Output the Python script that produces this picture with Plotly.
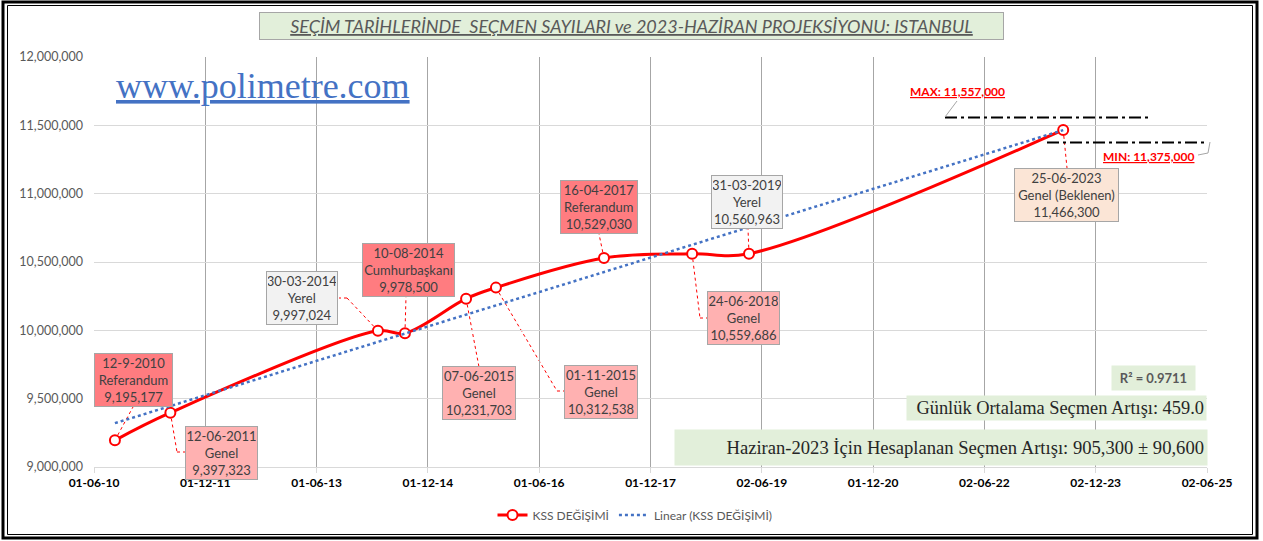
import numpy as np
import pandas as pd
import plotly.graph_objects as go

# ---------------- data ----------------
dates = ["2010-09-12", "2011-06-12", "2014-03-30", "2014-08-10", "2015-06-07",
         "2015-11-01", "2017-04-16", "2018-06-24", "2019-03-31", "2023-06-25"]
voters = [9195177, 9397323, 9997024, 9978500, 10231703,
          10312538, 10529030, 10559686, 10560963, 11466300]
date_labels = ["12-9-2010", "12-06-2011", "30-03-2014", "10-08-2014", "07-06-2015",
               "01-11-2015", "16-04-2017", "24-06-2018", "31-03-2019", "25-06-2023"]
election_types = ["Referandum", "Genel", "Yerel", "Cumhurbaşkanı", "Genel",
                  "Genel", "Referandum", "Genel", "Yerel", "Genel (Beklenen)"]
tick_dates = ["2010-06-01", "2011-12-01", "2013-06-01", "2014-12-01", "2016-06-01",
              "2017-12-01", "2019-06-02", "2020-12-01", "2022-06-02", "2023-12-02", "2025-06-02"]
tick_labels = ["01-06-10", "01-12-11", "01-06-13", "01-12-14", "01-06-16",
               "01-12-17", "02-06-19", "01-12-20", "02-06-22", "02-12-23", "02-06-25"]
proj_max = 11557000
proj_min = 11375000
r_squared = 0.9711
daily_increase = 459.0
title_text = "SEÇİM TARİHLERİNDE  SEÇMEN SAYILARI ve 2023-HAZİRAN PROJEKSİYONU: ISTANBUL"
increase_text = "Haziran-2023 İçin Hesaplanan Seçmen Artışı: 905,300 ± 90,600"

# ---------------- geometry helpers ----------------
W, H = 1263, 541
PL, PR, PT, PB = 94, 1207, 57, 467
X0, X1 = pd.Timestamp(tick_dates[0]), pd.Timestamp(tick_dates[-1])
Y0, Y1 = 9000000, 12000000


def xd(px):
    return X0 + (px - PL) / (PR - PL) * (X1 - X0)


def yv(py):
    return Y1 - (py - PT) / (PB - PT) * (Y1 - Y0)


def xp(px):
    return (px - PL) / (PR - PL)


def yp(py):
    return (PB - py) / (PB - PT)


FONT = "Lato"
SERIF = "Liberation Serif"

fig = go.Figure()

# trendline (least-squares fit of the data, like Excel's linear trendline)
dt = pd.to_datetime(dates)
days = np.array([(d - dt[0]).days for d in dt], dtype=float)
coef = np.polyfit(days, np.array(voters, dtype=float), 1)
trend_x = [dt[0], dt[-1]]
trend_y = list(np.polyval(coef, [days[0], days[-1]]))

fig.add_trace(go.Scatter(
    x=dates, y=voters, mode="lines+markers", name="KSS DEĞİŞİMİ",
    line=dict(color="#FF0000", width=3, shape="spline", smoothing=1),
    marker=dict(symbol="circle", size=10, color="white",
                line=dict(color="#FF0000", width=2)),
))
fig.add_trace(go.Scatter(
    x=trend_x, y=trend_y, mode="lines", name="Linear (KSS DEĞİŞİMİ)",
    line=dict(color="#4472C4", width=2.5, dash="dot"),
))

shapes = []
annotations = []

# ---------------- data labels (boxes) ----------------
type_colors = {"Referandum": "#FF7C80", "Cumhurbaşkanı": "#FF7C80", "Genel": "#FFB1B1",
               "Yerel": "#F2F2F2", "Genel (Beklenen)": "#FBE5D6"}
box_pos = [(133, 380, 79), (221, 453, 73), (302, 298, 72), (408, 270, 93), (479, 393, 74),
           (601, 392, 74), (599, 207, 78), (743, 318, 73), (747, 202, 72), (1066, 195, 105)]
leaders = [[(133, 407)], [(177, 452), (185, 452)], [(347, 298), (339, 298)], [(406, 297)],
           [(479, 367)], [(557, 391), (564, 391)], [(599, 234)], [(700, 318), (707, 318)],
           [(748, 229)], [(1067, 168)]]

for i in range(len(dates)):
    cx, cy, w = box_pos[i]
    annotations.append(dict(
        x=xd(cx), y=yv(cy), xref="x", yref="y", showarrow=False,
        xanchor="center", yanchor="middle",
        text=f"{date_labels[i]}<br>{election_types[i]}<br>{voters[i]:,}",
        font=dict(family=FONT, size=13, color="#404040"),
        bgcolor=type_colors[election_types[i]], bordercolor="#A6A6A6", borderwidth=1,
        borderpad=1, width=w - 4, height=50, align="center",
    ))
    px_prev = (dt[i], voters[i])
    for (lx, ly) in leaders[i]:
        nxt = (xd(lx), yv(ly))
        shapes.append(dict(type="line", xref="x", yref="y", x0=px_prev[0], y0=px_prev[1],
                           x1=nxt[0], y1=nxt[1], layer="below",
                           line=dict(color="#FF0000", width=1, dash="dot")))
        px_prev = nxt

# ---------------- MAX / MIN projection lines ----------------
dashdot = "12px,4px,3px,4px"
shapes.append(dict(type="line", xref="x", yref="y", x0=xd(945), x1=xd(1148), y0=proj_max, y1=proj_max,
                   line=dict(color="black", width=2, dash=dashdot)))
shapes.append(dict(type="line", xref="x", yref="y", x0=xd(1047), x1=xd(1207), y0=proj_min, y1=proj_min,
                   line=dict(color="black", width=2, dash=dashdot)))
shapes.append(dict(type="line", xref="paper", yref="paper", x0=xp(957), y0=yp(101), x1=xp(945), y1=yp(117),
                   line=dict(color="#A6A6A6", width=1)))
shapes.append(dict(type="path", xref="paper", yref="paper",
                   path=f"M {xp(1210)},{yp(142)} L {xp(1208)},{yp(153)} L {xp(1198)},{yp(155)}",
                   line=dict(color="#A6A6A6", width=1)))
annotations.append(dict(x=xp(957), y=yp(92), xref="paper", yref="paper", showarrow=False,
                        text=f"<b><u>MAX: {proj_max:,}</u></b>", xanchor="center", yanchor="middle",
                        font=dict(family=FONT, size=12, color="#FF0000")))
annotations.append(dict(x=xp(1148), y=yp(156), xref="paper", yref="paper", showarrow=False,
                        text=f"<b><u>MIN: {proj_min:,}</u></b>", xanchor="center", yanchor="middle",
                        font=dict(family=FONT, size=12, color="#FF0000")))

# ---------------- text boxes ----------------
annotations.append(dict(x=xp(631), y=yp(26), xref="paper", yref="paper", showarrow=False,
                        text=f"<i><u>{title_text}</u></i>", xanchor="center", yanchor="middle",
                        font=dict(family=FONT, size=18, color="#595959"),
                        bgcolor="#E2EFDA", bordercolor="#A6A6A6", borderwidth=1, borderpad=2,
                        width=739, height=22))
annotations.append(dict(x=xp(263), y=yp(86), xref="paper", yref="paper", showarrow=False,
                        text="<u>www.polimetre.com</u>", xanchor="center", yanchor="middle",
                        font=dict(family=SERIF, size=36, color="#4472C4")))
annotations.append(dict(x=xp(1153), y=yp(378), xref="paper", yref="paper", showarrow=False,
                        text=f"<b>R² = {r_squared:.4f}</b>", xanchor="center", yanchor="middle",
                        font=dict(family=FONT, size=13, color="#595959"),
                        bgcolor="#E2EFDA", borderpad=3, width=77, height=18))
annotations.append(dict(x=xp(1056), y=yp(408), xref="paper", yref="paper", showarrow=False,
                        text=f"Günlük Ortalama Seçmen Artışı: {daily_increase:.1f}",
                        xanchor="center", yanchor="middle", align="right",
                        font=dict(family=SERIF, size=18.4, color="#262626"),
                        bgcolor="#E2EFDA", borderpad=2, width=295, height=20))
annotations.append(dict(x=xp(941), y=yp(447), xref="paper", yref="paper", showarrow=False,
                        text=increase_text, xanchor="center", yanchor="middle", align="right",
                        font=dict(family=SERIF, size=18.6, color="#262626"),
                        bgcolor="#E2EFDA", borderpad=3, width=526, height=29))

# ---------------- outer frame ----------------
shapes.append(dict(type="rect", xref="paper", yref="paper", x0=xp(3), x1=xp(1257), y0=yp(538), y1=yp(2),
                   line=dict(color="black", width=3)))
shapes.append(dict(type="rect", xref="paper", yref="paper", x0=xp(7.5), x1=xp(1252.5), y0=yp(534.5), y1=yp(5.5),
                   line=dict(color="black", width=1)))

fig.update_layout(
    width=W, height=H,
    margin=dict(l=PL, r=W - PR, t=PT, b=H - PB, pad=0),
    paper_bgcolor="white", plot_bgcolor="white",
    showlegend=True,
    legend=dict(orientation="h", x=xp(635), y=yp(515), xanchor="center", yanchor="middle",
                font=dict(family=FONT, size=12, color="#595959"), bgcolor="rgba(0,0,0,0)"),
    xaxis=dict(type="date", range=[X0, X1], tickmode="array", tickvals=tick_dates, ticktext=tick_labels,
               showgrid=True, gridcolor="#A6A6A6", gridwidth=1, zeroline=False,
               showline=True, linecolor="#D9D9D9", ticks="outside", ticklen=5, tickcolor="#D9D9D9",
               tickfont=dict(family=FONT, size=12, color="black", weight="bold")),
    yaxis=dict(range=[Y0, Y1], dtick=500000, tickformat=",", showgrid=True, gridcolor="#D9D9D9",
               zeroline=False, showline=False, ticks="", ticklabelstandoff=10,
               tickfont=dict(family=FONT, size=12.5, color="#595959")),
    shapes=shapes, annotations=annotations,
    font=dict(family=FONT),
)

fig.write_html("out.html", config={"displayModeBar": False},
               post_script="document.body.style.margin='0';")
